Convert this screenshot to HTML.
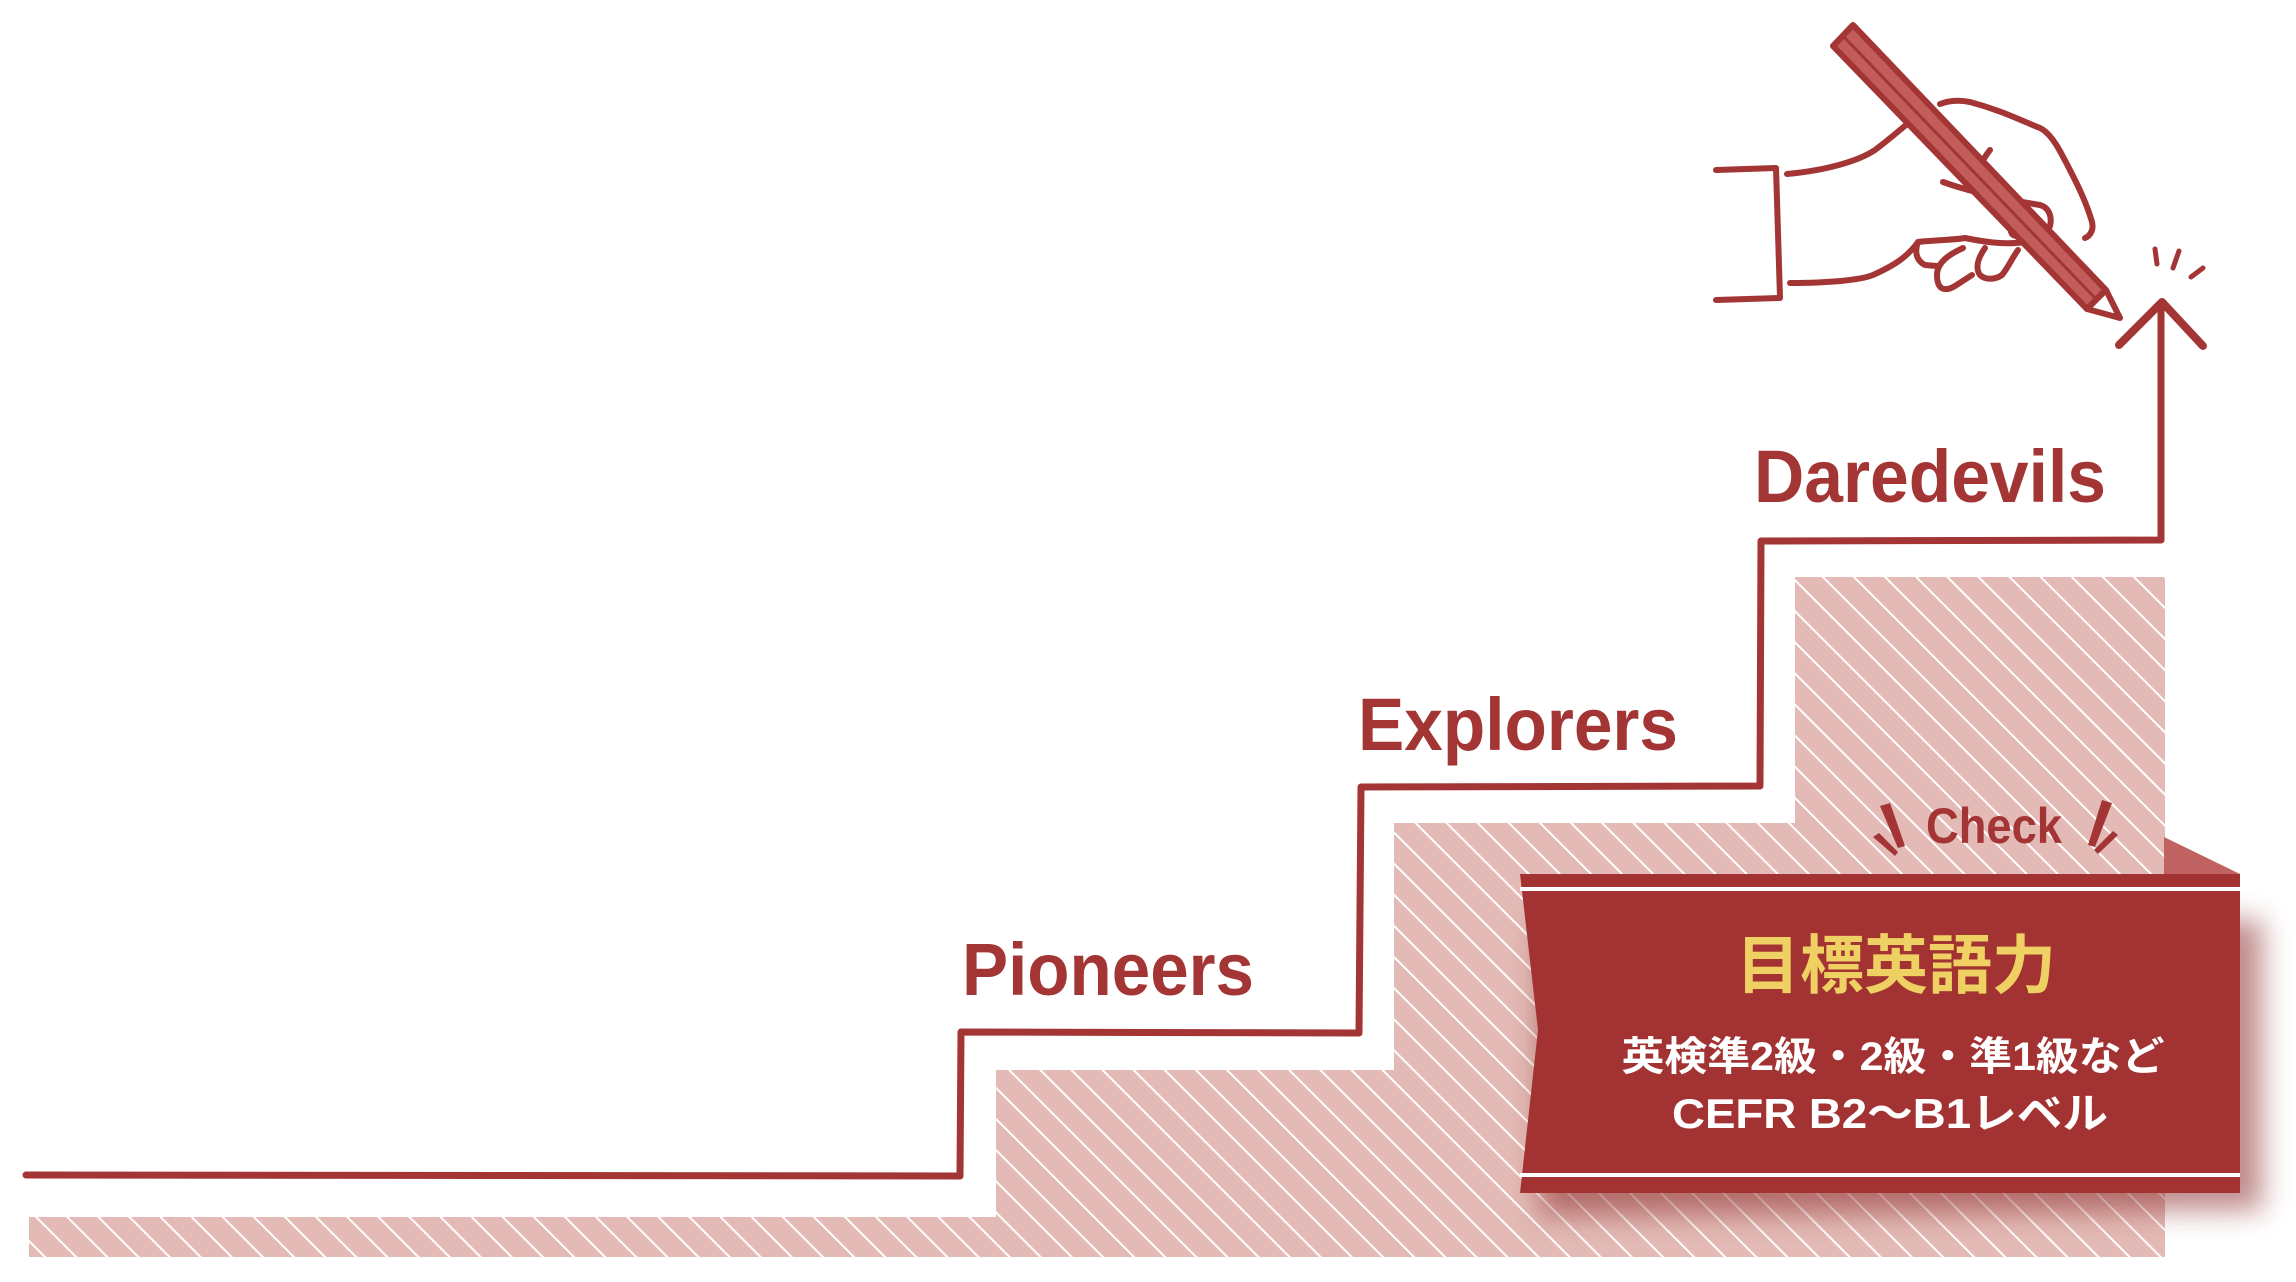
<!DOCTYPE html>
<html><head><meta charset="utf-8"><style>
html,body{margin:0;padding:0;background:#fff;}
svg{display:block;}
</style></head><body>
<svg width="2296" height="1282" viewBox="0 0 2296 1282" xmlns="http://www.w3.org/2000/svg">
<defs>
<pattern id="h" patternUnits="userSpaceOnUse" width="22" height="22" patternTransform="rotate(-45)">
<rect width="22" height="22" fill="#e3bab5"/>
<rect x="0" y="0" width="2" height="22" fill="#fff"/>
</pattern>
<filter id="sh" x="-10%" y="-10%" width="130%" height="140%"><feGaussianBlur stdDeviation="14"/></filter>
</defs>
<path d="M29 1217 H996 V1070 H1394 V823 H1795 V577 H2165 V1257 H29 Z" fill="url(#h)"/>
<path d="M26 1175 L960 1176 L961 1032 L1359 1033 L1361 787 L1760 786 L1761 541 L2161 540 L2161 305" fill="none" stroke="#a33535" stroke-width="7" stroke-linejoin="round" stroke-linecap="round"/>
<path d="M2119 345 L2162 302 L2203 346" fill="none" stroke="#a33535" stroke-width="8" stroke-linecap="round" stroke-linejoin="round"/>
<g stroke="#a33535" stroke-width="5" stroke-linecap="round">
<line x1="2155" y1="249" x2="2157" y2="264"/>
<line x1="2179" y1="251" x2="2173" y2="268"/>
<line x1="2203" y1="268" x2="2191" y2="277"/>
</g>
<g fill="none" stroke="#a33535" stroke-width="6" stroke-linecap="round" stroke-linejoin="round">
<path d="M1716 170 L1776 168 L1780 298 L1716 300"/>
<path d="M1787 174 C1830 170 1860 160 1875 150 C1895 135 1905 125 1915 118"/>
<path d="M1940 104 C1950 100 1960 100 1970 102 C2000 110 2020 120 2040 128 C2052 134 2060 150 2075 180 C2085 200 2090 215 2092 222 C2094 230 2090 236 2085 238"/>
<path d="M1990 150 C1982 160 1978 170 1977 176"/>
<path d="M1943 182 C1965 190 1990 196 2022 202 L2040 205 C2050 208 2052 218 2050 226 C2046 234 2040 236 2030 236 L2016 236 C2010 235 2010 230 2011 220 L2013 205"/>
<path d="M1790 283 C1830 283 1860 280 1873 275 C1895 265 1905 258 1915 246 L1918 242 C1935 240 1955 240 1965 238 C1985 242 2000 244 2015 243 C2030 242 2040 240 2045 235"/>
<path d="M1918 242 C1915 250 1915 260 1925 265 L1937 266"/>
<path d="M1963 248 C1950 254 1937 262 1937 275 C1937 290 1945 292 1955 286 L1972 275"/>
<path d="M1985 248 C1978 258 1975 268 1980 275 C1985 280 1995 280 2002 275 C2008 268 2012 258 2018 250"/>
</g>
<g stroke-linejoin="round" stroke-linecap="round">
<path d="M1833 46 L1853 25 L2106 290 L2087 309 Z" fill="#c25d5a" stroke="#a33535" stroke-width="6"/>
<path d="M2087 309 L2106 290 L2120 318 Z" fill="#fff" stroke="#a33535" stroke-width="6"/>
<line x1="1845" y1="38" x2="2095" y2="298" stroke="#a33535" stroke-width="3"/>
</g>
<g font-family="'Liberation Sans', sans-serif" font-weight="bold" fill="#a33535">
<text x="962" y="995" font-size="74" textLength="292" lengthAdjust="spacingAndGlyphs">Pioneers</text>
<text x="1358" y="750" font-size="74" textLength="320" lengthAdjust="spacingAndGlyphs">Explorers</text>
<text x="1754" y="502" font-size="74" textLength="352" lengthAdjust="spacingAndGlyphs">Daredevils</text>
</g>
<path d="M1540 920 L2262 920 L2262 1210 L1540 1215 Z" fill="#8a2a2a" opacity="0.55" filter="url(#sh)"/>
<path d="M2164 837 L2240 874 L2164 874 Z" fill="#c06262"/>
<path d="M1520 874 L2240 874 L2240 1193 L1520 1193 L1538 1030 Z" fill="#a33333"/>
<rect x="1520" y="887" width="720" height="4" fill="#fff"/>
<rect x="1520" y="1173" width="720" height="4" fill="#fff"/>
<text x="1994" y="843" text-anchor="middle" font-family="'Liberation Sans', sans-serif" font-weight="bold" font-size="50" fill="#a33535" textLength="136" lengthAdjust="spacingAndGlyphs">Check</text>
<g fill="#a33535">
<path d="M1880 806 L1890 803 L1905 846 L1898 848 Z"/>
<path d="M1873 837 L1879 833 L1898 852 L1895 856 Z"/>
<path d="M2112 803 L2102 800 L2088 845 L2095 847 Z"/>
<path d="M2118 835 L2113 831 L2094 850 L2098 854 Z"/>
</g>
<g font-family="'Liberation Sans','Noto Sans CJK JP',sans-serif" font-weight="bold" text-anchor="middle">
<text x="1896" y="988" font-size="64" fill="#efd063" textLength="320" lengthAdjust="spacingAndGlyphs">目標英語力</text>
<text x="1893" y="1070" font-size="40" fill="#fff" textLength="543" lengthAdjust="spacingAndGlyphs">英検準2級・2級・準1級など</text>
<text x="1890" y="1128" font-size="42" fill="#fff" textLength="436" lengthAdjust="spacingAndGlyphs">CEFR B2〜B1レベル</text>
</g>
</svg>
</body></html>
